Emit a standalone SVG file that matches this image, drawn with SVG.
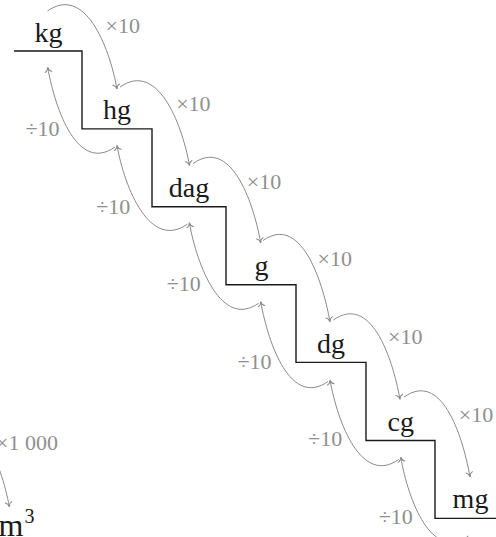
<svg xmlns="http://www.w3.org/2000/svg" width="496" height="537" viewBox="0 0 496 537">
  <style>
    .unit { font-family: "Liberation Serif", "DejaVu Serif", serif; font-size: 28px; fill: #1a1a1a; text-anchor: middle; }
    .op { font-family: "Liberation Serif", "DejaVu Serif", serif; font-size: 22px; fill: #8f8f8f; }
    .stair { fill: none; stroke: #1a1a1a; stroke-width: 1.4; }
    .conv { fill: none; stroke: #8a8a8a; stroke-width: 1; marker-end: url(#tip); }
  </style>
  <defs>
    <marker id="tip" markerUnits="userSpaceOnUse" markerWidth="12" markerHeight="12" viewBox="-6 -6 12 12" refX="0" refY="0" orient="auto" overflow="visible">
      <path d="M -4.5 -3.4 C -3.8 -1.3 -1.6 -0.3 0 0 C -1.6 0.3 -3.8 1.3 -4.5 3.4" fill="none" stroke="#8a8a8a" stroke-width="1" stroke-linecap="round"/>
    </marker>
  </defs>

  <!-- staircase outline -->
  <path class="stair" d="M14,51 H82 V128.9 H152 V206.7 H226 V284.7 H296 V362.4 H366 V440.5 H435 V518.4 H496"/>

  <!-- unit nodes -->
  <g id="kg"><text class="unit" x="48.5" y="41.5">kg</text></g>
  <g id="hg"><text class="unit" x="117" y="119.2">hg</text></g>
  <g id="dag"><text class="unit" x="189" y="196.9">dag</text></g>
  <g id="g"><text class="unit" x="261.5" y="274.7">g</text></g>
  <g id="dg"><text class="unit" x="331" y="352.6">dg</text></g>
  <g id="cg"><text class="unit" x="400.8" y="430.5">cg</text></g>
  <g id="mg"><text class="unit" x="470.5" y="508.4">mg</text></g>

  <!-- neighbouring volume chart, partly outside the frame -->
  <g id="dm3">
    <text class="unit" x="-1.5" y="536" style="text-anchor:start;font-size:32px">m<tspan dy="-13" dx="1" style="font-size:20px">3</tspan></text>
  </g>

  <!-- conversion arrows -->
  <g id="connectors">
    <!-- multiply going down the stairs -->
    <path class="conv" d="M47.5,11 C84.5,-15 109,45 117,89"/>
    <path class="conv" d="M120,87 C157,61 181.5,121.5 189.5,165.5"/>
    <path class="conv" d="M193,163.5 C230,137.5 252.7,198.7 260.7,242.7"/>
    <path class="conv" d="M263,240.5 C300,214.5 322,277.7 330,321.7"/>
    <path class="conv" d="M333.3,320 C370.3,294 392,355.3 400,399.3"/>
    <path class="conv" d="M404,397 C441,371 462,432.7 470,476.7"/>
    <!-- divide going up the stairs -->
    <path class="conv" d="M115,147 C78,173 55.7,111.5 47.7,67.5"/>
    <path class="conv" d="M187.3,224.2 C150.3,250.2 125,189.5 117,145.5"/>
    <path class="conv" d="M258.7,303.2 C221.7,329.2 197.3,266.7 189.3,222.7"/>
    <path class="conv" d="M328,381.5 C291,407.5 268.7,345.7 260.7,301.7"/>
    <path class="conv" d="M398.7,459.5 C361.7,485.5 338,424 330,380"/>
    <path class="conv" d="M468.5,536 C431.5,562 408.7,501.3 400.7,457.3"/>
    <!-- volume chart arrow -->
    <path class="conv" d="M-60,428 C-23,402 1.3,462.7 9.3,506.7"/>
  </g>

  <!-- operation labels -->
  <g id="labels">
    <text class="op" x="105.5" y="33.3">×10</text>
    <text class="op" x="176.2" y="111">×10</text>
    <text class="op" x="246.8" y="188.7">×10</text>
    <text class="op" x="317.5" y="266.4">×10</text>
    <text class="op" x="388.1" y="344.1">×10</text>
    <text class="op" x="458.8" y="421.8">×10</text>
    <text class="op" x="25.5" y="136">÷10</text>
    <text class="op" x="96.2" y="213.6">÷10</text>
    <text class="op" x="166.8" y="291.2">÷10</text>
    <text class="op" x="237.5" y="368.8">÷10</text>
    <text class="op" x="308.1" y="446.4">÷10</text>
    <text class="op" x="378.8" y="524">÷10</text>
    <text class="op" x="-4" y="450">×1 000</text>
  </g>
</svg>
